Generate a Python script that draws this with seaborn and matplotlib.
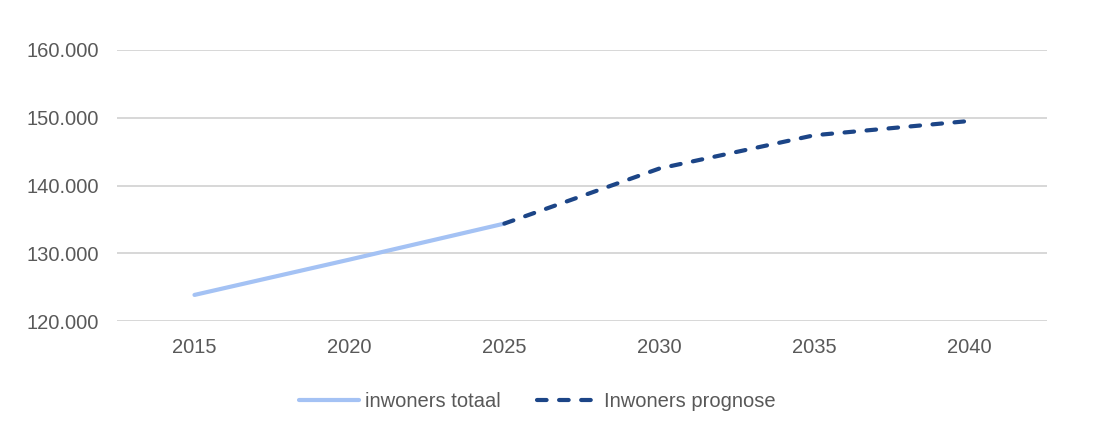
import pandas as pd
import numpy as np
import matplotlib
matplotlib.use("Agg")
import matplotlib.pyplot as plt
import seaborn as sns

# values
jaren_totaal = [2015, 2020, 2025]
inwoners_totaal = [123900, 129100, 134400]
jaren_prognose = [2025, 2030, 2035, 2040]
inwoners_prognose = [134400, 142500, 147400, 149500]
x_ticks = [2015, 2020, 2025, 2030, 2035, 2040]
y_ticks = [120000, 130000, 140000, 150000, 160000]

df = pd.concat([
    pd.DataFrame({"jaar": jaren_totaal, "inwoners": inwoners_totaal, "serie": "inwoners totaal"}),
    pd.DataFrame({"jaar": jaren_prognose, "inwoners": inwoners_prognose, "serie": "Inwoners prognose"}),
])

sns.set_style("white")
plt.rcParams["font.family"] = ["Liberation Sans", "DejaVu Sans"]

fig = plt.figure(figsize=(11.04, 4.28), dpi=100)
ax = fig.add_axes([0.106, 0.249, 0.842, 0.635])

sns.lineplot(data=df, x="jaar", y="inwoners", hue="serie", style="serie",
             palette={"inwoners totaal": "#a4c2f4", "Inwoners prognose": "#1c4587"},
             dashes={"inwoners totaal": "", "Inwoners prognose": (2.3, 3.0)},
             linewidth=3, ax=ax, legend=True)
for ln in ax.get_lines():
    ln.set_dash_capstyle("round")

ax.set_xlim(2012.5, 2042.5)
ax.set_ylim(120000, 160000)
ax.set_xticks(x_ticks)
ax.set_yticks(y_ticks)
ax.set_yticklabels([f"{v:,}".replace(",", ".") for v in y_ticks])
ax.grid(axis="y", color="#d4d4d4", linewidth=1.3)
ax.set_axisbelow(True)
for s in ax.spines.values():
    s.set_visible(False)
ax.tick_params(axis="both", length=0, labelsize=14.5, colors="#595959")
ax.tick_params(axis="y", pad=13)
ax.tick_params(axis="x", pad=12)
ax.set_xlabel("")
ax.set_ylabel("")

handles, labels = ax.get_legend_handles_labels()
leg = ax.legend(handles, labels, loc="center", bbox_to_anchor=(0.452, -0.296), ncol=2,
                frameon=False, fontsize=14.5, handlelength=3, handletextpad=0.3,
                columnspacing=1.8)
for t in leg.get_texts():
    t.set_color("#595959")
for h in leg.get_lines():
    h.set_linewidth(3)

fig.savefig("out.png", dpi=100)
